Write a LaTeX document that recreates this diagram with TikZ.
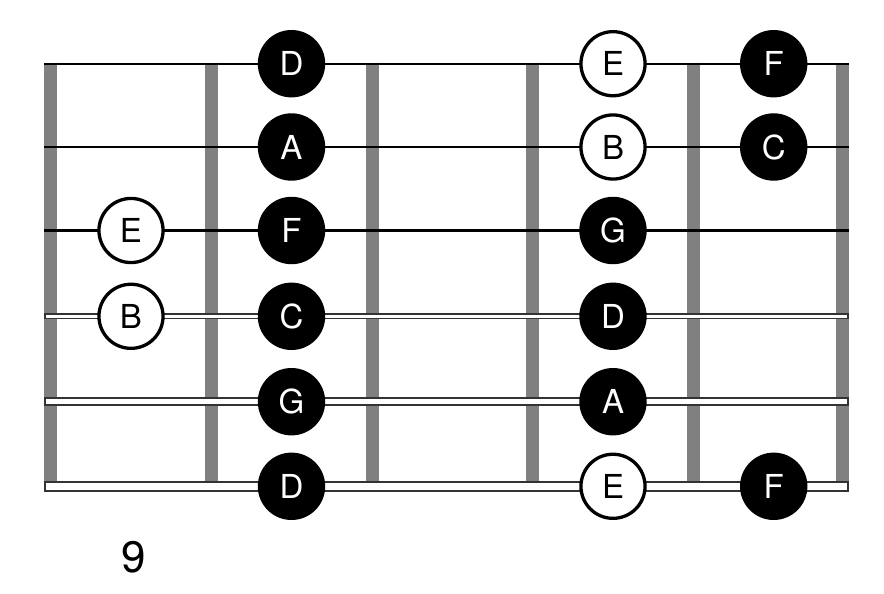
\documentclass[tikz,border=0pt]{standalone}
\usepackage{fontspec}
\setmainfont{TeX Gyre Heros}

\begin{document}
\begin{tikzpicture}[x=1pt,y=-1pt,
    fret/.style={gray, line width=13},
    thinstring/.style={black, line width=2.2},
    woundstring/.style={fill=white, draw=black!80, line width=1.8},
    filled/.style={fill=black, text=white, minimum size=67.4},
    hollow/.style={draw=black, fill=white, line width=3.3, minimum size=64.1}]
\useasboundingbox (0,0) rectangle (884,594);
\begin{scope}[every node/.style={circle, inner sep = 0pt, font=\fontsize{33}{33}\selectfont}]
    \draw [fret] (50.5,62.7) -- (50.5,491.7);
    \draw [fret] (211,62.7) -- (211,491.7);
    \draw [fret] (372,62.7) -- (372,491.7);
    \draw [fret] (532.3,62.7) -- (532.3,491.7);
    \draw [fret] (693.3,62.7) -- (693.3,491.7);
    \draw [fret] (842.7,62.7) -- (842.7,491.7);

    \draw [thinstring] (44,63.7) -- (849,63.7);
    \draw [thinstring] (44,147) -- (849,147);
    \draw [thinstring] (44,230.5) -- (849,230.5);
    \draw [woundstring] (44.9,314.2) rectangle (848.1,318.4);
    \draw [woundstring] (44.9,398.2) rectangle (848.1,405.1);
    \draw [woundstring] (44.9,481.6) rectangle (848.1,491.1);

    \node [filled] (a) at (291.5,63.7) {D};
    \node [hollow] (b) at (613,63.7) {E};
    \node [filled] (c) at (773.7,63.7) {F};
    \node [filled] (d) at (291.5,147) {A};
    \node [hollow] (e) at (613,147) {B};
    \node [filled] (f) at (773.7,147) {C};
    \node [hollow] (g) at (131,230.5) {E};
    \node [filled] (h) at (291.5,230.5) {F};
    \node [filled] (i) at (613,230.5) {G};
    \node [hollow] (j) at (131,316.3) {B};
    \node [filled] (k) at (291.5,316.3) {C};
    \node [filled] (l) at (613,316.3) {D};
    \node [filled] (m) at (291.5,401.7) {G};
    \node [filled] (n) at (613,401.7) {A};
    \node [filled] (o) at (291.5,486.3) {D};
    \node [hollow] (p) at (613,486.3) {E};
    \node [filled] (q) at (773.7,486.3) {F};
\end{scope}

\node [font=\fontsize{44}{44}\selectfont] (fretno) at (133.3,557.5) {9};

\end{tikzpicture}
\end{document}
